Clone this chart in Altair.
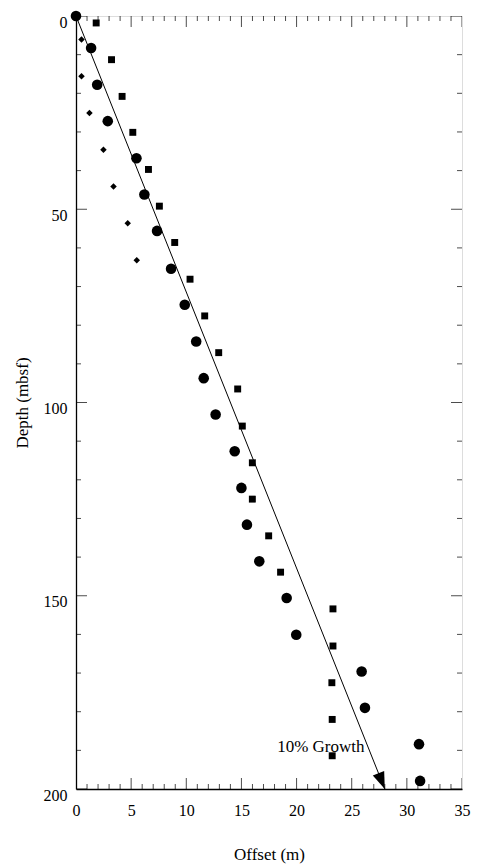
import altair as alt
import pandas as pd

# ---- data ----
circle_x = [0.0, 1.37, 1.92, 2.88, 5.48, 6.2, 7.35, 8.62, 9.86, 10.9, 11.58, 12.66,
            14.39, 15.0, 15.5, 16.62, 19.1, 19.97, 25.9, 26.2, 31.1, 31.2]
circle_d = [0.0, 8.3, 17.8, 27.2, 36.8, 46.2, 55.6, 65.4, 74.7, 84.2, 93.7, 103.1,
            112.6, 122.1, 131.6, 141.1, 150.6, 160.1, 169.6, 179.0, 188.4, 197.9]

square_x = [1.83, 3.22, 4.18, 5.15, 6.57, 7.56, 8.95, 10.34, 11.67, 12.94, 14.66,
            15.08, 15.99, 15.99, 17.47, 18.55, 23.3, 23.3, 23.2, 23.23, 23.23]
square_d = [1.8, 11.3, 20.8, 30.1, 39.7, 49.2, 58.6, 68.1, 77.6, 87.1, 96.5,
            106.1, 115.6, 125.0, 134.5, 143.9, 153.4, 163.0, 172.5, 182.0, 191.4]

diamond_x = [0.5, 0.5, 1.22, 2.49, 3.4, 4.69, 5.51]
diamond_d = [6.1, 15.6, 25.1, 34.6, 44.1, 53.6, 63.2]

growth_x = [0.0, 28.0]
growth_d = [0.0, 200.0]

label_x = [22.2]
label_d = [190.5]
label_text = ["10% Growth"]

x_major = [0, 5, 10, 15, 20, 25, 30, 35]
x_minor = [v for v in range(0, 36) if v % 5 != 0]
y_major = [0, 50, 100, 150, 200]
y_minor = [v for v in range(0, 201, 10) if v % 50 != 0]
x_edges = [0, 35]
y_edges = [0, 200]

FONT = "Liberation Serif"

xs = alt.Scale(domain=[0, 35], nice=False, zero=False)
ys = alt.Scale(domain=[0, 200], nice=False, zero=False, reverse=True)

x_axis = alt.Axis(values=x_major, title="Offset (m)", ticks=False, grid=False,
                  labelPadding=13, titlePadding=28, labelFontSize=16, titleFontSize=17,
                  titleFontWeight="normal", labelFont=FONT, titleFont=FONT,
                  domainColor="black", domainWidth=1.3, labelColor="black",
                  titleColor="black", labelFlush=False, labelOverlap=False, format="d")
y_axis = alt.Axis(values=y_major, title="Depth (mbsf)", ticks=False, grid=False,
                  labelPadding=9, titlePadding=12, labelOffset=6, labelFontSize=16,
                  titleFontSize=17, titleFontWeight="normal", labelFont=FONT,
                  titleFont=FONT, domainColor="black", domainWidth=1.3,
                  labelColor="black", titleColor="black", labelFlush=False,
                  labelOverlap=False, format="d")


def X():
    return alt.X("x:Q", scale=xs, axis=x_axis)


def Y():
    return alt.Y("d:Q", scale=ys, axis=y_axis)


circles = pd.DataFrame({"x": circle_x, "d": circle_d})
squares = pd.DataFrame({"x": square_x, "d": square_d})
diamonds = pd.DataFrame({"x": diamond_x, "d": diamond_d})
growth = pd.DataFrame({"x": growth_x, "d": growth_d})
arrow = pd.DataFrame({"x": growth_x[-1:], "d": growth_d[-1:]})
labels = pd.DataFrame({"x": label_x, "d": label_d, "t": label_text})

xt_major = pd.DataFrame([{"x": v, "d": e} for v in x_major for e in y_edges])
xt_minor = pd.DataFrame([{"x": v, "d": e} for v in x_minor for e in y_edges])
yt_major = pd.DataFrame([{"x": e, "d": v} for v in y_major for e in x_edges])
yt_minor = pd.DataFrame([{"x": e, "d": v} for v in y_minor for e in x_edges])

layers = [
    alt.Chart(xt_major).mark_tick(orient="vertical", size=22, thickness=1,
                                  color="black", clip=True).encode(x=X(), y=Y()),
    alt.Chart(xt_minor).mark_tick(orient="vertical", size=10, thickness=1,
                                  color="black", clip=True).encode(x=X(), y=Y()),
    alt.Chart(yt_major).mark_tick(orient="horizontal", size=22, thickness=1,
                                  color="black", clip=True).encode(x=X(), y=Y()),
    alt.Chart(yt_minor).mark_tick(orient="horizontal", size=10, thickness=1,
                                  color="black", clip=True).encode(x=X(), y=Y()),
    alt.Chart(growth).mark_line(color="black", strokeWidth=1).encode(x=X(), y=Y()),
    alt.Chart(arrow).mark_point(shape="M0,0L-0.36,-1L0.36,-1Z", size=1156,
                                angle=338.2, filled=True, color="black",
                                opacity=1).encode(x=X(), y=Y()),
    alt.Chart(diamonds).mark_point(shape="diamond", size=42, filled=True,
                                   color="black", opacity=1).encode(x=X(), y=Y()),
    alt.Chart(squares).mark_point(shape="square", size=48, filled=True,
                                  color="black", opacity=1).encode(x=X(), y=Y()),
    alt.Chart(circles).mark_point(shape="circle", size=112, filled=True,
                                  color="black", opacity=1).encode(x=X(), y=Y()),
    alt.Chart(labels).mark_text(font=FONT, fontSize=17, align="center",
                                baseline="alphabetic", color="black").encode(
        x=X(), y=Y(), text="t:N"),
]

chart = alt.layer(*layers).properties(
    width=386, height=773,
    padding={"left": 5, "top": 2, "right": 5, "bottom": 5},
).configure_view(stroke="#777777", strokeWidth=1.5).configure(background="white")

chart.save("out.html", embed_options={"renderer": "svg", "actions": False})
